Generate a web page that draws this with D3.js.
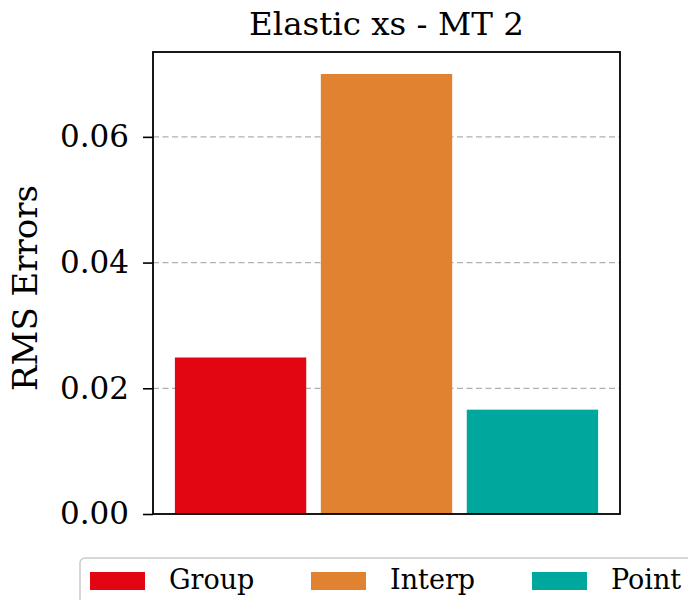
<!DOCTYPE html>
<html>
<head>
<meta charset="utf-8">
<script src="https://cdn.jsdelivr.net/npm/d3@7"></script>
<style>
  html, body { margin: 0; padding: 0; background: #fff; }
  svg { display: block; }
  text { font-family: "DejaVu Serif", serif; fill: #000; }
</style>
</head>
<body>
<svg id="chart" width="688" height="600"></svg>
<script>
// RMS error per reconstruction method
const methods = ["Group", "Interp", "Point"];
const rmsErrors = [0.0249, 0.0700, 0.0166];
const barColors = ["#e20613", "#e0822f", "#00a79d"];
const yTicks = [0.00, 0.02, 0.04, 0.06];
const title = "Elastic xs - MT 2";
const yLabel = "RMS Errors";

const svg = d3.select("#chart");
const plot = { left: 153, right: 620, top: 52, bottom: 514 };

const x = d3.scaleBand()
  .domain(methods)
  .range([plot.left, plot.right])
  .paddingInner(0.1)
  .paddingOuter(0.15);

const y = d3.scaleLinear()
  .domain([0, d3.max(rmsErrors) * 1.05])
  .range([plot.bottom, plot.top]);

// dashed horizontal grid behind the bars
svg.append("g")
  .selectAll("line")
  .data(yTicks.filter(d => d > 0))
  .join("line")
  .attr("x1", plot.left)
  .attr("x2", plot.right)
  .attr("y1", d => y(d))
  .attr("y2", d => y(d))
  .attr("stroke", "#b0b0b0")
  .attr("stroke-width", 1.2)
  .attr("stroke-dasharray", "6,3.5");

// bars
svg.append("g")
  .selectAll("rect")
  .data(methods)
  .join("rect")
  .attr("x", d => x(d))
  .attr("width", x.bandwidth())
  .attr("y", (d, i) => y(rmsErrors[i]))
  .attr("height", (d, i) => y(0) - y(rmsErrors[i]))
  .attr("fill", (d, i) => barColors[i]);

// y axis
const yAxis = svg.append("g")
  .attr("transform", `translate(${plot.left},0)`)
  .call(d3.axisLeft(y).tickValues(yTicks).tickFormat(d3.format(".2f")).tickSize(10).tickPadding(14));
yAxis.select(".domain").remove();
yAxis.selectAll(".tick line").attr("stroke", "#000").attr("stroke-width", 1.6);
yAxis.selectAll(".tick text")
  .style("font-family", "'DejaVu Serif', serif")
  .style("font-size", "31px")
  .attr("fill", "#000");

// axes frame
svg.append("rect")
  .attr("x", plot.left)
  .attr("y", plot.top)
  .attr("width", plot.right - plot.left)
  .attr("height", plot.bottom - plot.top)
  .attr("fill", "none")
  .attr("stroke", "#000")
  .attr("stroke-width", 1.8);

// title
svg.append("text")
  .attr("x", (plot.left + plot.right) / 2)
  .attr("y", 35)
  .attr("text-anchor", "middle")
  .style("font-size", "32.5px")
  .text(title);

// y axis label
svg.append("text")
  .attr("transform", `translate(37,${(plot.top + plot.bottom) / 2 + 5}) rotate(-90)`)
  .attr("text-anchor", "middle")
  .style("font-size", "34px")
  .text(yLabel);

// legend
const legend = svg.append("g");
legend.append("rect")
  .attr("x", 80)
  .attr("y", 558)
  .attr("width", 700)
  .attr("height", 100)
  .attr("rx", 5)
  .attr("fill", "#fff")
  .attr("stroke", "#cccccc")
  .attr("stroke-width", 1.6);

const legendX = d3.scaleOrdinal().domain(methods).range([90, 311, 532]);
const item = legend.selectAll("g.item")
  .data(methods)
  .join("g")
  .attr("class", "item")
  .attr("transform", d => `translate(${legendX(d)},572)`);
item.append("rect")
  .attr("width", 55)
  .attr("height", 18)
  .attr("fill", (d, i) => barColors[i]);
item.append("text")
  .attr("x", 79)
  .attr("y", 17)
  .style("font-size", "27px")
  .text(d => d);
</script>
</body>
</html>
